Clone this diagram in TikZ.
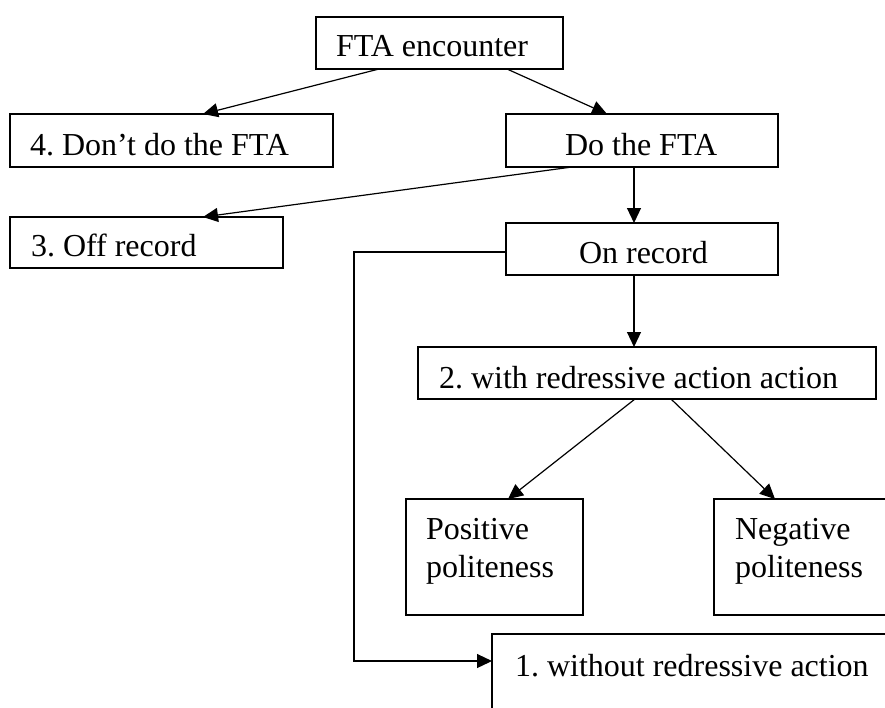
\documentclass[tikz,border=0pt]{standalone}
\usepackage{fontspec}
\setmainfont{Liberation Serif}
\usetikzlibrary{arrows.meta,calc}
\begin{document}
\frenchspacing
\begin{tikzpicture}[x=1pt,y=-1pt,
  box/.style={draw,line width=1.3pt,inner sep=0pt,outer sep=0pt},
  txt/.style={inner sep=0pt,outer sep=0pt,anchor=base west,font=\fontsize{32}{37.5}\selectfont},
  arr/.style={line width=1.2pt,-{Triangle[length=15pt,width=14pt]}},
  con/.style={line width=1.2pt}]
\useasboundingbox (0,0) rectangle (885,707);
\clip (0,0) rectangle (885,707);
% boxes
\node[box,minimum width=247pt,minimum height=52pt] (fta) at (439.5,43) {};
\node[box,minimum width=323pt,minimum height=53pt] (dont) at (171.5,140.5) {};
\node[box,minimum width=272pt,minimum height=53pt] (dofta) at (642,140.5) {};
\node[box,minimum width=273pt,minimum height=51pt] (off) at (146.5,242.5) {};
\node[box,minimum width=272pt,minimum height=52pt] (onrec) at (642,249) {};
\node[box,minimum width=458pt,minimum height=52pt] (with) at (647,373) {};
\node[box,minimum width=177pt,minimum height=116pt] (pos) at (494.5,557) {};
\node[box,minimum width=191pt,minimum height=116pt] (neg) at (809.5,557) {};
\node[box,minimum width=413pt,minimum height=96pt] (without) at (698.5,682) {};
% texts
\node[txt] (tfta) at (336,56.7) {FTA encounter};
\node[txt] (tdont) at (30,155) {4. Don’t do the FTA};
\node[txt] (tdofta) at (565,155) {Do the FTA};
\node[txt] (toff) at (31,256) {3. Off record};
\node[txt] (tonrec) at (579,263) {On record};
\node[txt] (twith) at (439,388) {2. with redressive action action};
\node[txt] (tpos1) at (426,539) {Positive};
\node[txt] (tpos2) at (426,577) {politeness};
\node[txt] (tneg1) at (735,539) {Negative};
\node[txt] (tneg2) at (735,577) {politeness};
\node[txt] (twithout) at (515,676) {1. without redressive action};
% connectors
\draw[arr] ($(fta.south west)+(63,0)$) -- ($(dont.north west)+(193,0)$);
\draw[arr] ($(fta.south west)+(191,0)$) -- ($(dofta.north west)+(101,0)$);
\draw[arr] ($(dofta.south west)+(66,0)$) -- ($(off.north west)+(193,0)$);
\draw[arr] ($(dofta.south west)+(128,0)$) -- ($(onrec.north west)+(128,0)$);
\draw[arr] ($(onrec.south west)+(128,0)$) -- ($(with.north west)+(216,0)$);
\draw[arr] ($(onrec.west)+(0,3)$) -- ++(-152,0) |- ($(without.north west)+(0,27)$);
\draw[arr] ($(with.south west)+(217,0)$) -- ($(pos.north west)+(102,0)$);
\draw[arr] ($(with.south west)+(253,0)$) -- ($(neg.north west)+(61,0)$);
\end{tikzpicture}
\end{document}
